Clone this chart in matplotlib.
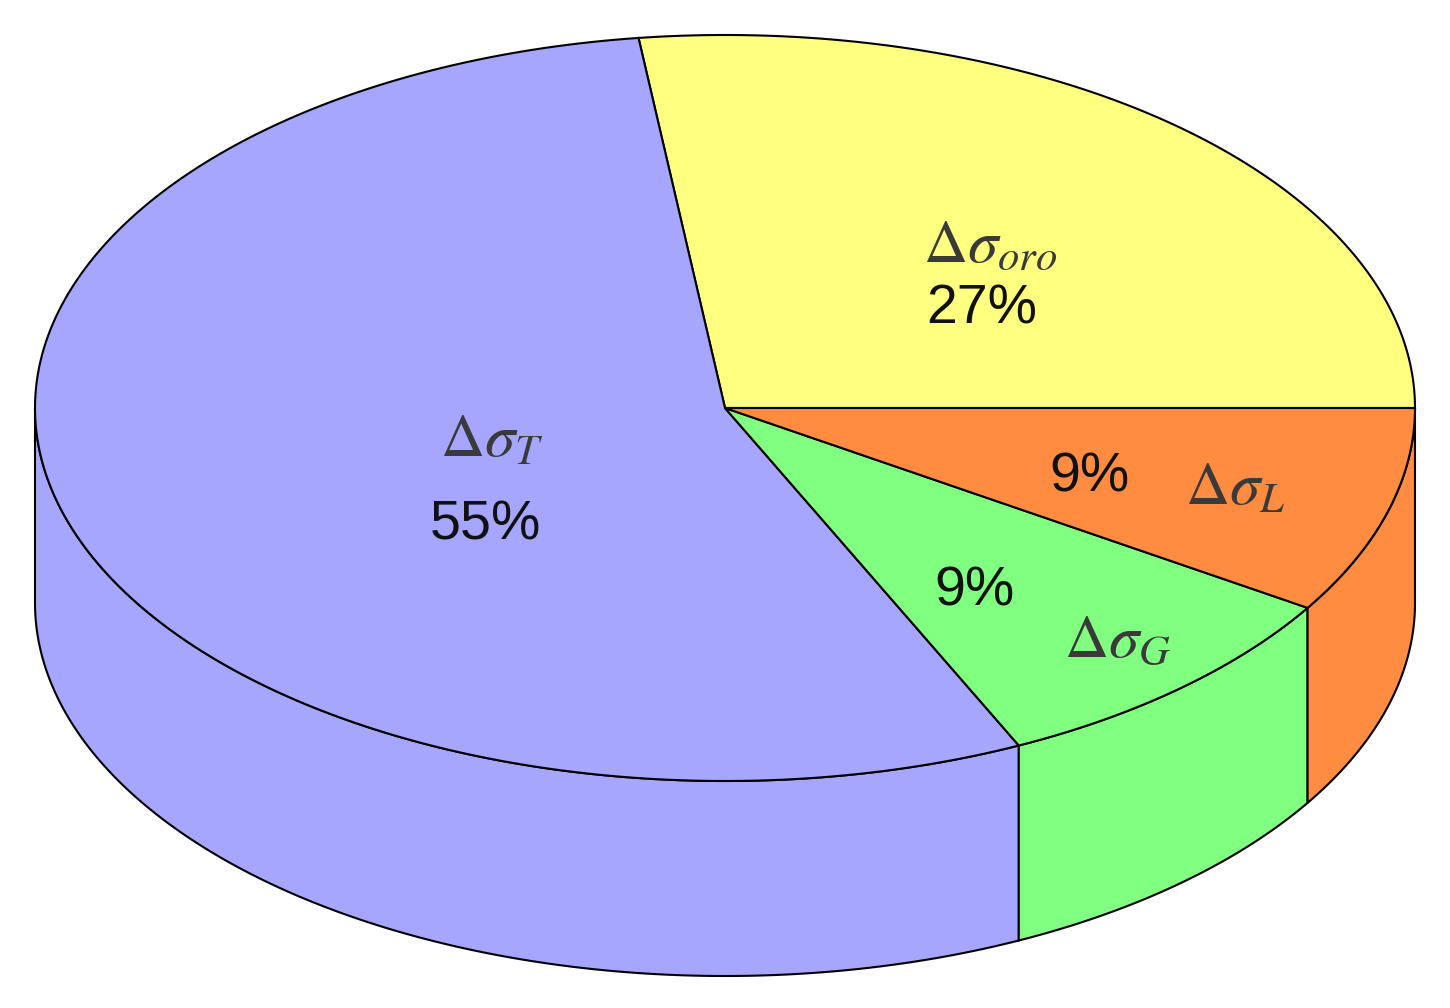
import numpy as np
import matplotlib.pyplot as plt
from matplotlib.patches import Polygon

plt.rcParams["mathtext.fontset"] = "stix"

# slice data, counter-clockwise starting from the east direction
labels = [r"$\Delta\sigma_{oro}$", r"$\Delta\sigma_{T}$", r"$\Delta\sigma_{G}$", r"$\Delta\sigma_{L}$"]
shares = [27, 55, 9, 9]
colors = ["#FFFF80", "#A6A6FF", "#80FF80", "#FF8C40"]

cx, cy = 725, 408
rx, ry = 690, 373
depth = 195

fig = plt.figure(figsize=(14.5, 10.08), dpi=100)
ax = fig.add_axes([0, 0, 1, 1])
ax.set_xlim(0, 1450)
ax.set_ylim(1008, 0)
ax.axis("off")


def arc(t1, t2, dy=0):
    t = np.radians(np.linspace(t1, t2, 200))
    return np.column_stack([cx + rx * np.cos(t), cy - ry * np.sin(t) + dy])


bounds = np.concatenate([[0], np.cumsum(shares) / sum(shares) * 360])

# side walls (front half only)
for i, col in enumerate(colors):
    a, b = max(bounds[i], 180), min(bounds[i + 1], 360)
    if a >= b:
        continue
    top = arc(a, b)
    bot = arc(b, a, depth)
    ax.add_patch(Polygon(np.vstack([top, bot]), closed=True, fc=col, ec="black", lw=1.5))

# top faces
for i, col in enumerate(colors):
    pts = np.vstack([[cx, cy], arc(bounds[i], bounds[i + 1])])
    ax.add_patch(Polygon(pts, closed=True, fc=col, ec="black", lw=1.5))

sig = dict(fontsize=44, color="#3a3a3a", ha="center", va="center")
pct = dict(fontsize=40, color="#111111", ha="center", va="center", family="Liberation Sans")

ax.text(990, 245, labels[0], **sig)
ax.text(982, 310, f"{shares[0]}%", **pct)
ax.text(492, 440, labels[1], **sig)
ax.text(485, 525, f"{shares[1]}%", **pct)
ax.text(975, 592, f"{shares[2]}%", **pct)
ax.text(1118, 640, labels[2], **sig)
ax.text(1090, 478, f"{shares[3]}%", **pct)
ax.text(1235, 488, labels[3], **sig)

fig.savefig("out.png", dpi=100)
